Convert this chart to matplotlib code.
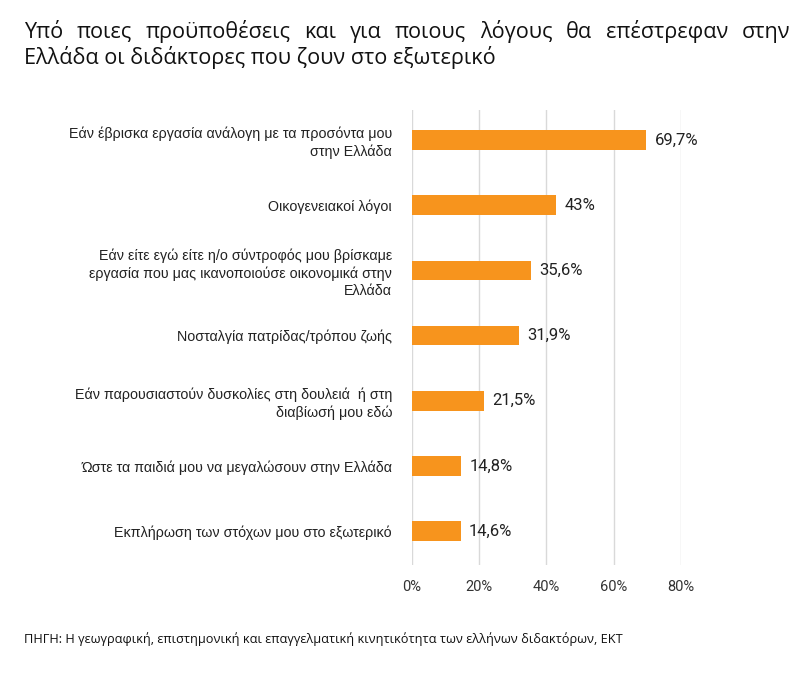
import matplotlib
matplotlib.use("Agg")
import matplotlib.pyplot as plt
from matplotlib import font_manager

# data
categories = [
    "Εάν έβρισκα εργασία ανάλογη με τα προσόντα μου\nστην Ελλάδα",
    "Οικογενειακοί λόγοι",
    "Εάν είτε εγώ είτε η/ο σύντροφός μου βρίσκαμε\nεργασία που μας ικανοποιούσε οικονομικά στην\nΕλλάδα",
    "Νοσταλγία πατρίδας/τρόπου ζωής",
    "Εάν παρουσιαστούν δυσκολίες στη δουλειά  ή στη\nδιαβίωσή μου εδώ",
    "Ώστε τα παιδιά μου να μεγαλώσουν στην Ελλάδα",
    "Εκπλήρωση των στόχων μου στο εξωτερικό",
]
values = [69.7, 43, 35.6, 31.9, 21.5, 14.8, 14.6]
value_labels = ["69,7%", "43%", "35,6%", "31,9%", "21,5%", "14,8%", "14,6%"]
xticks = [0, 20, 40, 60, 80]

title_line1 = "Υπό ποιες προϋποθέσεις και για ποιους λόγους θα επέστρεφαν στην"
title_line2 = "Ελλάδα οι διδάκτορες που ζουν στο εξωτερικό"
source = ("ΠΗΓΗ: Η γεωγραφική, επιστημονική και επαγγελματική κινητικότητα "
          "των ελλήνων διδακτόρων, ΕΚΤ")

W, H = 805, 678
bar_color = "#F7941D"
names = {f.name for f in font_manager.fontManager.ttflist}
narrow = "Liberation Sans Narrow" if "Liberation Sans Narrow" in names else "Roboto"

fig = plt.figure(figsize=(W / 100, H / 100), dpi=100)
ax = fig.add_axes([411.5 / W, 1 - 565 / H, 269.5 / W, 455 / H])

ypos = list(range(len(values)))
ax.barh(ypos, values, height=0.30, color=bar_color, zorder=3)

for y, v, lab in zip(ypos, values, value_labels):
    ax.text(v + 2.4, y, lab, va="center", ha="left", fontsize=12,
            family=narrow, color="#222222")

ax.set_xlim(0, 80)
ax.set_ylim(6.52, -0.46)
ax.set_xticks(xticks)
ax.set_xticklabels([f"{t}%" for t in xticks], family=narrow, fontsize=10.5,
                   color="#333333")
ax.set_yticks(ypos)
ax.set_yticklabels(categories, family="Liberation Sans", fontsize=10.3,
                   color="#222222", ha="right", linespacing=1.3)
ax.tick_params(axis="y", length=0, pad=14)
ax.tick_params(axis="x", length=0, pad=11)
ax.grid(axis="x", color="#d9d9d9", lw=1, zorder=0)
for s in ax.spines.values():
    s.set_visible(False)

# title: first line justified between the page margins like the original
tfont = dict(fontsize=15.6, family="Open Sans", color="#111111", va="baseline")
renderer = fig.canvas.get_renderer()
words = title_line1.split(" ")
x_left, x_right = 24, 790
wtexts = [fig.text(0, 1 - 38 / H, w, ha="left", **tfont) for w in words]
widths = [t.get_window_extent(renderer).width for t in wtexts]
gap = (x_right - x_left - sum(widths)) / (len(words) - 1)
x = x_left
for t, w in zip(wtexts, widths):
    t.set_x(x / W)
    x += w + gap
fig.text(x_left / W, 1 - 64 / H, title_line2, ha="left", **tfont)

fig.text(24 / W, 1 - 643 / H, source, ha="left", va="baseline", fontsize=9.2,
         family="Open Sans", color="#111111")

fig.savefig("out.png", dpi=100)
